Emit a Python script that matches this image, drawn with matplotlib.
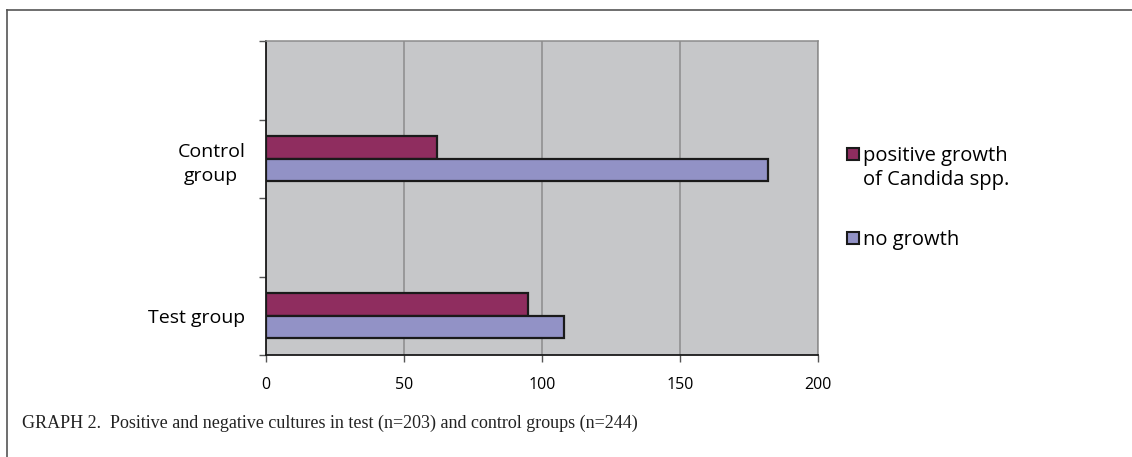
import matplotlib
matplotlib.use("Agg")
import matplotlib.pyplot as plt
from matplotlib.lines import Line2D
from matplotlib.patches import Rectangle

# Culture results per group
groups = ["Test group", "Control\ngroup"]
series_names = ["positive growth\nof Candida spp.", "no growth"]
positive_growth = [95, 62]
no_growth = [108, 182]
x_ticks = [0, 50, 100, 150, 200]
caption = "GRAPH 2.  Positive and negative cultures in test (n=203) and control groups (n=244)"

col_pos = "#8f2d5f"
col_neg = "#9292c6"
bg = "#c6c7c9"
grid_col = "#8c8c8c"

W, H = 1132, 457
fig = plt.figure(figsize=(W / 100, H / 100), dpi=100)
fig.patch.set_facecolor("white")

ax = fig.add_axes([266 / W, 1 - 355 / H, (818 - 266) / W, (355 - 41) / H])
ax.set_facecolor(bg)

label_font = ["Open Sans", "DejaVu Sans"]

# Category slots: groups occupy slots 0 and 2, with empty slots between
slots = [0, 2]
bh = 0.287
ax.barh([s + bh / 2 for s in slots], positive_growth, height=bh, color=col_pos,
        edgecolor="#1a1a1a", linewidth=1.6, zorder=3)
ax.barh([s - bh / 2 for s in slots], no_growth, height=bh, color=col_neg,
        edgecolor="#1a1a1a", linewidth=1.6, zorder=3)

ax.set_xlim(0, 200)
ax.set_ylim(-0.5, 3.5)
ax.set_xticks(x_ticks)
ax.set_xticklabels([str(v) for v in x_ticks], fontsize=11.5, family=label_font)
ax.set_yticks([-0.5, 0.5, 1.5, 2.5, 3.5])
ax.set_yticklabels([])
ax.set_yticks(slots, minor=True)
ax.set_yticklabels(groups, minor=True, fontsize=14, family=label_font,
                   multialignment="center", linespacing=1.45)
ax.tick_params(axis="y", which="minor", length=0, pad=15)
ax.tick_params(axis="y", which="major", length=5, width=1, color="#555555", direction="out")
ax.tick_params(axis="x", length=5, width=1, color="#555555", direction="out", pad=11)

ax.xaxis.grid(True, color=grid_col, linewidth=1.1, zorder=1)
ax.set_axisbelow(True)
for side in ("top", "right"):
    ax.spines[side].set_color(grid_col)
    ax.spines[side].set_linewidth(1.1)
for side in ("left", "bottom"):
    ax.spines[side].set_color("#1a1a1a")
    ax.spines[side].set_linewidth(1.3)

# Legend
leg_items = [(series_names[0], col_pos, 154), (series_names[1], col_neg, 238)]
for text, col, yc in leg_items:
    fig.patches.append(Rectangle((847 / W, 1 - (yc + 6) / H), 12 / W, 12 / H,
                                 transform=fig.transFigure, facecolor=col,
                                 edgecolor="#1a1a1a", linewidth=1.5))
    fig.text(863 / W, 1 - (yc - 8) / H, text, fontsize=14.5, family=label_font,
             va="top", ha="left", linespacing=1.3)

# Page frame
fig.add_artist(Line2D([7 / W, 1.0], [1 - 10 / H, 1 - 10 / H], color="#555555",
                      linewidth=1.2, transform=fig.transFigure))
fig.add_artist(Line2D([7 / W, 7 / W], [1 - 10 / H, 0.0], color="#555555",
                      linewidth=1.2, transform=fig.transFigure))

fig.text(22 / W, 1 - 423 / H, caption, fontsize=13,
         family=["Liberation Serif", "DejaVu Serif"],
         va="center", ha="left", color="#222222")

fig.savefig("out.png", dpi=100, facecolor="white")
